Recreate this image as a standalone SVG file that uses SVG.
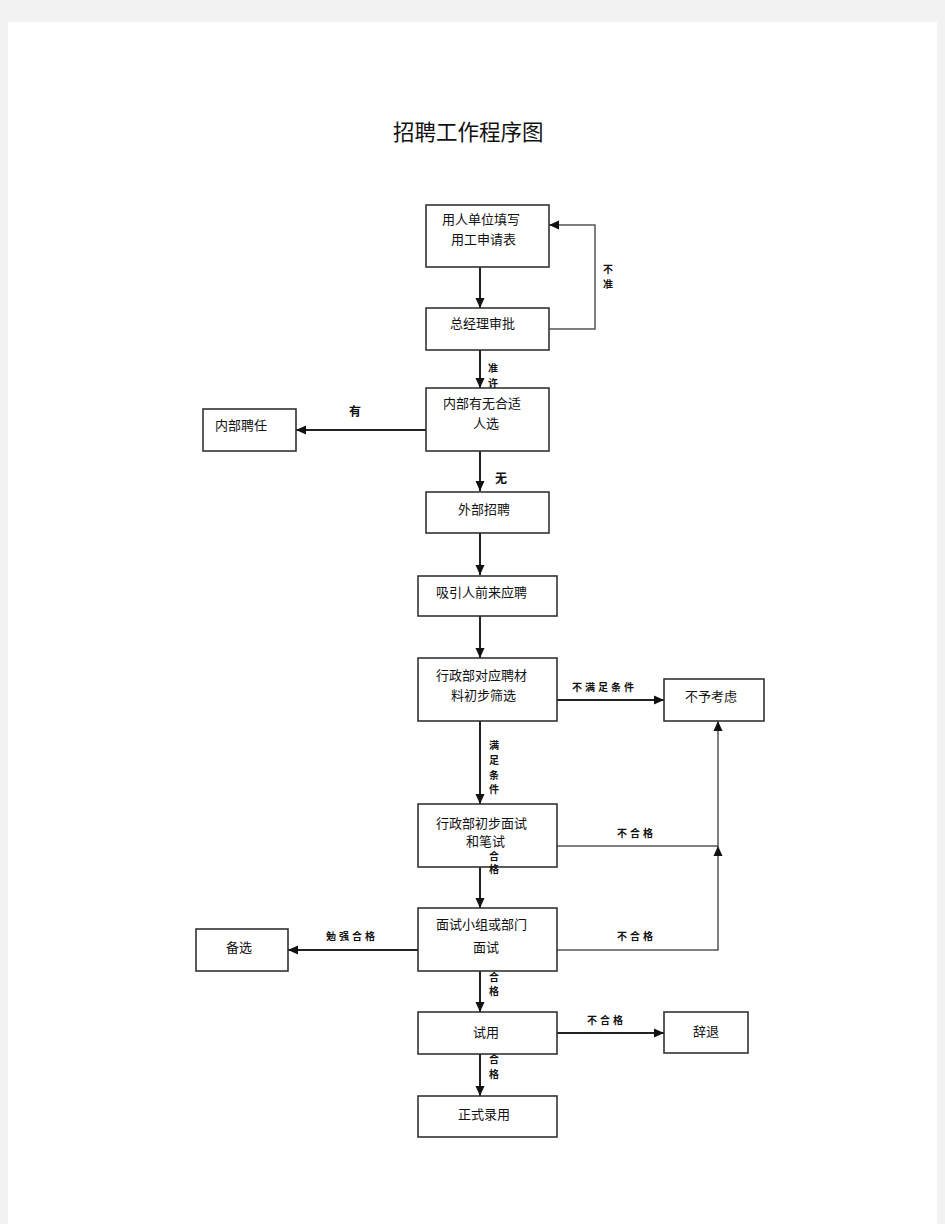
<svg xmlns="http://www.w3.org/2000/svg" width="945" height="1224" viewBox="0 0 945 1224">
<style>
.box{fill:#fff;stroke:#333;stroke-width:1.6}
.t{font-family:"Liberation Sans","Noto Sans CJK SC",sans-serif;font-size:13px;fill:#111}
.lb{font-family:"Noto Sans CJK SC",sans-serif;font-size:10px;font-weight:bold;fill:#111;letter-spacing:3px}
.lv{font-family:"Noto Sans CJK SC",sans-serif;font-size:10px;font-weight:bold;fill:#111;text-anchor:middle}
.c{fill:none;stroke:#222;stroke-width:2}
.g{fill:none;stroke:#555;stroke-width:1.5}
</style>
<defs>
<marker id="ah" markerUnits="userSpaceOnUse" viewBox="0 0 10 10" refX="10" refY="5" markerWidth="10" markerHeight="10" orient="auto">
<path d="M0,0.5 L10,5 L0,9.5 Z" fill="#111"/>
</marker>
</defs>
<rect x="0" y="0" width="945" height="1224" fill="#f2f2f2"/>
<rect x="8" y="22" width="929" height="1210" fill="#fff"/>
<text x="393" y="140" font-family="Noto Sans CJK SC,sans-serif" font-size="21.5" fill="#111">招聘工作程序图</text>

<g id="connectors">
<path class="c" d="M480,267 V308" marker-end="url(#ah)"/>
<path class="g" d="M549,329 H595 V225 H549" marker-end="url(#ah)"/>
<path class="c" d="M480,350 V388" marker-end="url(#ah)"/>
<path class="c" d="M426,430 H296" marker-end="url(#ah)"/>
<path class="c" d="M480,451 V491" marker-end="url(#ah)"/>
<path class="c" d="M480,533 V575" marker-end="url(#ah)"/>
<path class="c" d="M480,616 V658" marker-end="url(#ah)"/>
<path class="c" d="M557,700 H664" marker-end="url(#ah)"/>
<path class="c" d="M480,721 V804" marker-end="url(#ah)"/>
<path class="g" d="M557,846 H718 V721" marker-end="url(#ah)"/>
<path class="g" d="M557,950 H718 V846" marker-end="url(#ah)"/>
<path class="c" d="M418,950 H288" marker-end="url(#ah)"/>
<path class="c" d="M480,867 V908" marker-end="url(#ah)"/>
<path class="c" d="M480,971 V1012" marker-end="url(#ah)"/>
<path class="c" d="M557,1033 H664" marker-end="url(#ah)"/>
<path class="c" d="M480,1054 V1096" marker-end="url(#ah)"/>
</g>

<g id="n1"><rect class="box" x="426" y="205" width="123" height="62"/><text class="t" x="442" y="224">用人单位填写</text><text class="t" x="451" y="244">用工申请表</text></g>
<g id="n2"><rect class="box" x="426" y="308" width="123" height="42"/><text class="t" x="450" y="328">总经理审批</text></g>
<g id="n3"><rect class="box" x="426" y="388" width="123" height="63"/><text class="t" x="443" y="408">内部有无合适</text><text class="t" x="473" y="428">人选</text></g>
<g id="n4"><rect class="box" x="203" y="409" width="93" height="42"/><text class="t" x="215" y="430">内部聘任</text></g>
<g id="n5"><rect class="box" x="426" y="492" width="123" height="41"/><text class="t" x="458" y="514">外部招聘</text></g>
<g id="n6"><rect class="box" x="418" y="576" width="139" height="40"/><text class="t" x="436" y="597">吸引人前来应聘</text></g>
<g id="n7"><rect class="box" x="418" y="658" width="139" height="63"/><text class="t" x="436" y="680">行政部对应聘材</text><text class="t" x="451" y="700">料初步筛选</text></g>
<g id="n8"><rect class="box" x="664" y="679" width="100" height="42"/><text class="t" x="685" y="701">不予考虑</text></g>
<g id="n9"><rect class="box" x="418" y="804" width="139" height="63"/><text class="t" x="436" y="828">行政部初步面试</text><text class="t" x="466" y="846">和笔试</text></g>
<g id="n10"><rect class="box" x="418" y="908" width="139" height="63"/><text class="t" x="436" y="929">面试小组或部门</text><text class="t" x="473" y="952">面试</text></g>
<g id="n11"><rect class="box" x="196" y="929" width="92" height="42"/><text class="t" x="226" y="952">备选</text></g>
<g id="n12"><rect class="box" x="418" y="1012" width="139" height="42"/><text class="t" x="473" y="1037">试用</text></g>
<g id="n13"><rect class="box" x="664" y="1012" width="84" height="41"/><text class="t" x="693" y="1036">辞退</text></g>
<g id="n14"><rect class="box" x="418" y="1096" width="139" height="41"/><text class="t" x="458" y="1119">正式录用</text></g>

<g id="labels">
<text class="lv" x="608" y="273">不</text>
<text class="lv" x="608" y="288">准</text>
<text class="lv" x="493" y="372">准</text>
<text class="lv" x="493" y="387">许</text>
<text x="349" y="416" font-family="Noto Sans CJK SC,sans-serif" font-size="12" font-weight="bold" fill="#111">有</text>
<text x="495" y="483" font-family="Noto Sans CJK SC,sans-serif" font-size="12" font-weight="bold" fill="#111">无</text>
<text class="lb" x="572" y="691">不满足条件</text>
<text class="lv" x="494" y="749">满</text>
<text class="lv" x="494" y="764">足</text>
<text class="lv" x="494" y="779">条</text>
<text class="lv" x="494" y="793">件</text>
<text class="lb" x="617" y="837">不合格</text>
<text class="lv" x="494" y="860">合</text>
<text class="lv" x="494" y="873">格</text>
<text class="lb" x="326" y="940">勉强合格</text>
<text class="lb" x="617" y="940">不合格</text>
<text class="lv" x="494" y="981">合</text>
<text class="lv" x="494" y="995">格</text>
<text class="lb" x="587" y="1024">不合格</text>
<text class="lv" x="494" y="1063">合</text>
<text class="lv" x="494" y="1078">格</text>
</g>
</svg>
